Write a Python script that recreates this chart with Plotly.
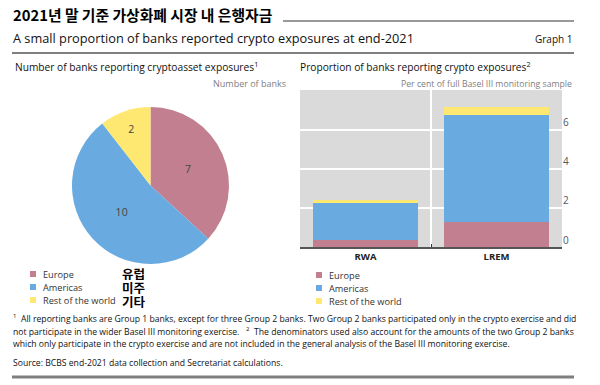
import plotly.graph_objects as go

W, H = 600, 385

# ---------------- data ----------------
regions = ["Europe", "Americas", "Rest of the world"]
regions_ko = ["유럽", "미주", "기타"]
bank_counts = [7, 10, 2]

bar_categories = ["RWA", "LREM"]
share_europe = [0.37, 1.28]
share_americas = [1.89, 5.47]
share_rest = [0.13, 0.44]
bar_series = [share_europe, share_americas, share_rest]
y_ticks = [0, 2, 4, 6]

colors = ["#c27f8f", "#69abe0", "#fee871"]

title_ko = "2021년 말 기준 가상화폐 시장 내 은행자금"
subtitle = "A small proportion of banks reported crypto exposures at end-2021"
graph_no = "Graph 1"
left_title = "Number of banks reporting cryptoasset exposures<sup>1</sup>"
left_unit = "Number of banks"
right_title = "Proportion of banks reporting crypto exposures<sup>2</sup>"
right_unit = "Per cent of full Basel III monitoring sample"
footnote_lines = [
    "<sup>1</sup>  All reporting banks are Group 1 banks, except for three Group 2 banks. Two Group 2 banks participated only in the crypto exercise and did",
    "not participate in the wider Basel III monitoring exercise.   <sup>2</sup>  The denominators used also account for the amounts of the two Group 2 banks",
    "which only participate in the crypto exercise and are not included in the general analysis of the Basel III monitoring exercise.",
]
source = "Source: BCBS end-2021 data collection and Secretariat calculations."


def px(x):
    return x / W


def py(y):
    return 1 - y / H


FONT = "Open Sans"
fig = go.Figure()

# pie
fig.add_trace(go.Pie(
    labels=regions, values=bank_counts, sort=False, direction="clockwise",
    rotation=0, marker=dict(colors=colors, line=dict(width=0)),
    textinfo="value", textposition="inside", insidetextorientation="horizontal",
    textfont=dict(family=FONT, size=10.5, color="#444"),
    domain=dict(x=[px(72), px(229)], y=[py(264), py(107)]),
    showlegend=False, hoverinfo="label+value",
))

# stacked bars
for name, vals, c in zip(regions, bar_series, colors):
    fig.add_trace(go.Bar(
        x=bar_categories, y=vals, name=name, marker=dict(color=c, line=dict(width=0)),
        width=0.8, showlegend=False, xaxis="x", yaxis="y",
    ))

ann = []
shapes = []


def text(x, y, s, size, color="#222", anchor="left", family=FONT, yanchor="middle"):
    ann.append(dict(x=px(x), y=py(y), xref="paper", yref="paper", text=s, showarrow=False,
                    xanchor=anchor, yanchor=yanchor,
                    font=dict(family=family, size=size, color=color)))


def hline(x0, x1, y, color, width):
    shapes.append(dict(type="line", xref="paper", yref="paper", x0=px(x0), x1=px(x1),
                       y0=py(y), y1=py(y), line=dict(color=color, width=width)))


# header
text(11, 14, "<b>" + title_ko + "</b>", 14.8, "#000", family="Noto Sans CJK KR")
hline(283, 574, 21, "#333", 1)
text(11, 38, subtitle, 12.75, "#111")
text(574, 39, graph_no, 10, "#111", anchor="right")
hline(12, 574, 53, "#7f7f7f", 2)

# panel titles
text(13, 67, left_title, 10.2, "#111")
text(288, 84, left_unit, 9, "#808080", anchor="right")
text(298, 67, right_title, 10.2, "#111")
text(574, 84, right_unit, 8.7, "#808080", anchor="right")

# legends (manual)
left_rows = [274, 287, 300]
ko_rows = [273, 287, 301]
for i, name in enumerate(regions):
    y = left_rows[i]
    shapes.append(dict(type="rect", xref="paper", yref="paper", x0=px(30), x1=px(36),
                       y0=py(y + 3), y1=py(y - 3), fillcolor=colors[i], line=dict(width=0)))
    text(41, y, name, 9.2, "#333")
    text(120, ko_rows[i], "<b>" + regions_ko[i] + "</b>", 12.5, "#000", family="Noto Sans CJK KR")

right_rows = [275, 288, 301]
for i, name in enumerate(regions):
    y = right_rows[i]
    shapes.append(dict(type="rect", xref="paper", yref="paper", x0=px(316), x1=px(322),
                       y0=py(y + 3), y1=py(y - 3), fillcolor=colors[i], line=dict(width=0)))
    text(327, y, name, 9.2, "#333")

# footnotes
for i, line in enumerate(footnote_lines):
    text(11, 318 + 13 * i, line, 8.65, "#111")
text(11, 363, source, 8.65, "#111")
hline(12, 574, 377, "#7f7f7f", 3)

fig.update_layout(
    width=W, height=H, margin=dict(l=0, r=0, t=0, b=0),
    paper_bgcolor="white", plot_bgcolor="#dadada",
    barmode="stack", bargap=0.2,
    annotations=ann, shapes=shapes,
    xaxis=dict(domain=[px(300), px(562)], type="category", range=[-0.5, 1.5],
               tickson="boundaries", ticks="inside", ticklen=3, tickwidth=1, tickcolor="#333",
               showgrid=True, gridcolor="white", gridwidth=2,
               showline=True, linecolor="#555", linewidth=2,
               tickfont=dict(family=FONT, size=9.5, color="#222", weight="bold"),
               fixedrange=True),
    yaxis=dict(domain=[py(247), py(90)], range=[0, 8.05], side="right", anchor="x",
               tickvals=y_ticks, ticks="", showgrid=True, gridcolor="white", gridwidth=1.5,
               zeroline=False, ticklabelposition="outside top",
               tickfont=dict(family=FONT, size=10, color="#555"), fixedrange=True),
    showlegend=False,
)

fig.write_html("out.html", config={"displayModeBar": False},
               post_script="document.body.style.margin='0';")
